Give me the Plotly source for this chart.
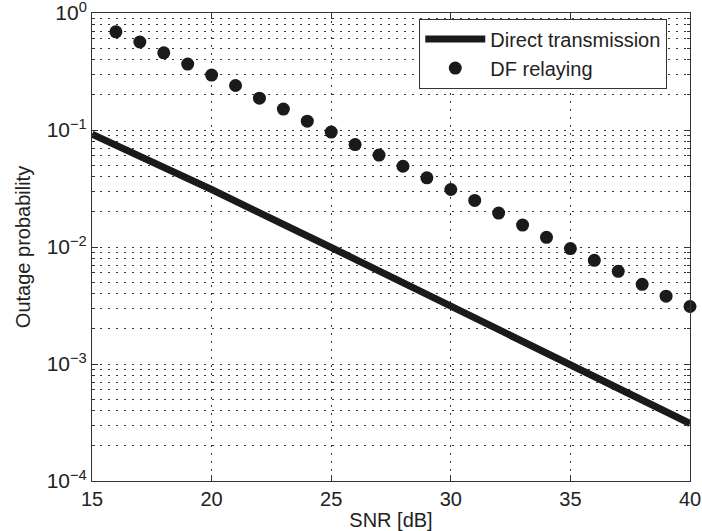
import plotly.graph_objects as go

snr_direct = [15, 20, 25, 30, 35, 40]
p_direct = [0.092, 0.031, 0.0099, 0.0031, 0.00099, 0.00031]

snr_df = list(range(16, 41))
p_df = [0.69, 0.565, 0.457, 0.366, 0.295, 0.24, 0.187, 0.151, 0.119, 0.096,
        0.075, 0.061, 0.049, 0.039, 0.031, 0.025, 0.0195, 0.0154, 0.0121, 0.0097,
        0.0077, 0.0062, 0.0048, 0.0038, 0.0031]

x_ticks = [15, 20, 25, 30, 35, 40]
y_ticks = [1e-4, 1e-3, 1e-2, 1e-1, 1]
y_ticktext = ["10<sup>−4</sup>", "10<sup>−3</sup>", "10<sup>−2</sup>", "10<sup>−1</sup>", "10<sup>0</sup>"]

FONT = "Liberation Sans, Arial"

fig = go.Figure()
fig.add_trace(go.Scatter(x=snr_direct, y=p_direct, mode="lines", name="Direct transmission",
                         line=dict(color="#1a1a1a", width=7)))
fig.add_trace(go.Scatter(x=snr_df, y=p_df, mode="markers", name="DF relaying",
                         cliponaxis=False,
                         marker=dict(color="#1a1a1a", size=13, symbol="circle")))

grid = dict(showgrid=True, gridcolor="#333", gridwidth=1, griddash="2px,6px")
fig.update_xaxes(range=[15, 40], tickvals=x_ticks, ticks="inside", ticklen=6, tickcolor="#333",
                 showline=True, linecolor="#333", linewidth=1, mirror="allticks",
                 zeroline=False, automargin=False, ticklabeloverflow="allow",
                 title=dict(text="SNR [dB]", standoff=4,
                            font=dict(size=20, family=FONT, color="#222")),
                 tickfont=dict(size=20, family=FONT, color="#222"),
                 **grid)
fig.update_yaxes(type="log", range=[-4, 0], tickvals=y_ticks, ticktext=y_ticktext,
                 ticks="inside", ticklen=6, tickcolor="#333",
                 showline=True, linecolor="#333", linewidth=1,
                 mirror="allticks", zeroline=False, automargin=False,
                 ticklabeloverflow="allow",
                 title=dict(text="Outage probability", standoff=10,
                            font=dict(size=20, family=FONT, color="#222")),
                 tickfont=dict(size=21, family=FONT, color="#222"),
                 minor=dict(showgrid=True, gridcolor="#333", gridwidth=1, griddash="2px,6px",
                            dtick="D1", ticks="inside", ticklen=3, tickcolor="#333"),
                 **grid)

fig.update_layout(
    width=702, height=531,
    margin=dict(l=92, r=12, t=13, b=50),
    paper_bgcolor="white", plot_bgcolor="white",
    showlegend=True,
    legend=dict(x=0.962, y=0.988, xanchor="right", yanchor="top",
                bgcolor="white", bordercolor="#333", borderwidth=1,
                font=dict(size=20, family=FONT, color="#222"),
                tracegroupgap=0, itemwidth=60),
)
fig.write_html("out.html")
